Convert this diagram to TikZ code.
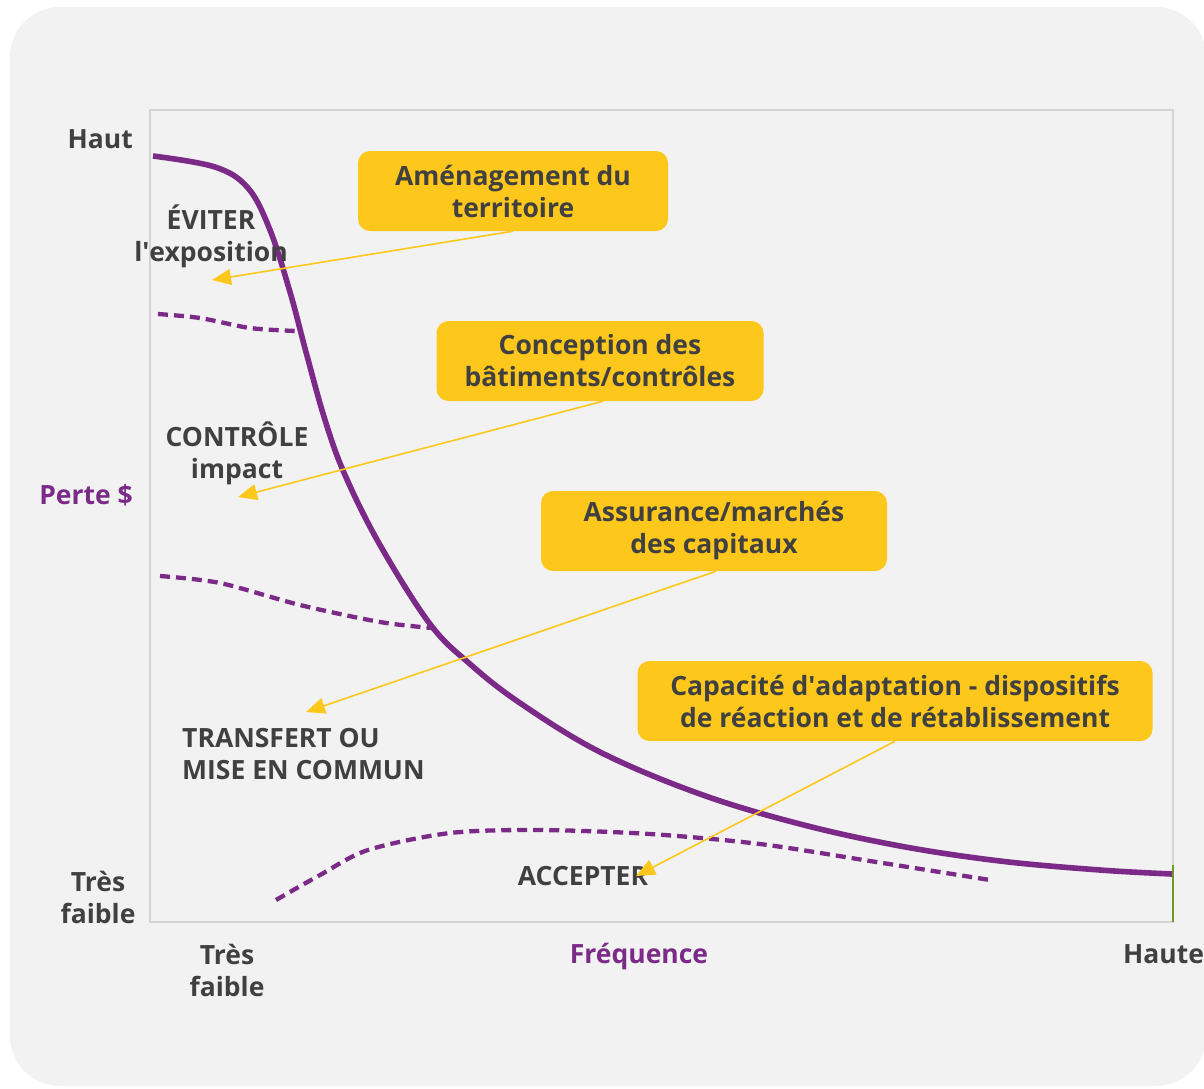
\documentclass[tikz,border=0pt]{standalone}
\usepackage{fontspec}
\setmainfont{Open Sans}
\usetikzlibrary{arrows.meta}
\definecolor{txt}{HTML}{404040}
\definecolor{plum}{HTML}{7B2A88}
\definecolor{gold}{HTML}{FDC71B}
\definecolor{panel}{HTML}{F2F2F2}
\definecolor{frameline}{HTML}{D4D4D4}
\definecolor{olive}{HTML}{6E9A2A}
\newcommand{\apos}{\textquotesingle}
\begin{document}
\begin{tikzpicture}[x=1pt,y=-1pt,
  lbl/.style={text=txt,font=\fontsize{26.5}{32}\selectfont\bfseries,align=center,inner sep=0pt},
  axislbl/.style={lbl,text=plum},
  goldbox/.style={fill=gold,rounded corners=12pt,text=txt,font=\fontsize{26.5}{32}\selectfont\bfseries,align=center,inner sep=0pt},
  pointer/.style={gold,line width=1.6pt,-{Triangle[length=19pt,width=16pt]}},
  curve/.style={plum,line width=5.6pt},
  band/.style={plum,line width=4.3pt,dash pattern=on 10pt off 6pt}]
\useasboundingbox (0,0) rectangle (1204,1088);
% panel
\fill[white] (0,0) rectangle (1204,1088);
\fill[panel,rounded corners=50pt] (10,7) rectangle (1206,1086);
% plot frame
\draw[frameline,line width=1.5pt] (150,110) rectangle (1173,922);
\draw[olive,line width=2pt] (1173,865) -- (1173,922);
% main loss curve
\draw[curve] plot[smooth,tension=0.6] coordinates {(153,156) (215,167) (248,188) (270,230) (290,292) (306,352) (325,420) (345,475) (380,545) (430,624) (470,664) (520,703) (600,752) (700,794) (800,824) (900,846) (1000,861) (1100,870) (1172,874)};
% dashed band limits
\draw[band] plot[smooth] coordinates {(158,314) (200,318) (250,328) (296,331)};
\draw[band] plot[smooth] coordinates {(160,576) (220,583) (300,605) (380,622) (432,628)};
\draw[band] plot[smooth] coordinates {(276,900) (320,875) (368,850) (450,833) (540,830) (650,834) (760,844) (870,861) (990,880)};
% axis labels
\node[lbl,anchor=east] (haut) at (133,139) {Haut};
\node[axislbl,anchor=east] (perte) at (133,495) {Perte \$};
\node[lbl] (ytf) at (98,897) {Très\\faible};
\node[lbl] (xtf) at (227,970) {Très\\faible};
\node[axislbl] (freq) at (639,957) {Fréquence};
\node[lbl,anchor=west] (haute) at (1123,954) {Haute};
% zone labels
\node[lbl] (eviter) at (211,236) {ÉVITER\\l\apos exposition};
\node[lbl] (controle) at (237,453) {CONTRÔLE\\impact};
\node[lbl,align=left,anchor=west] (transfert) at (182,754) {TRANSFERT OU\\MISE EN COMMUN};
\node[lbl] (accepter) at (583,876) {ACCEPTER};
% measures
\node[goldbox,minimum width=310pt,minimum height=80pt] (amenag) at (513,191) {Aménagement du\\territoire};
\node[goldbox,minimum width=327pt,minimum height=80pt] (concep) at (600,361) {Conception des\\bâtiments/contrôles};
\node[goldbox,minimum width=346pt,minimum height=80pt] (assur) at (714,531) {Assurance/marchés\\des capitaux};
\node[goldbox,minimum width=515pt,minimum height=80pt] (adapt) at (895,701) {Capacité d\apos adaptation - dispositifs\\de réaction et de rétablissement};
% pointer tips
\coordinate (t1) at (212,280);
\coordinate (t2) at (238,497);
\coordinate (t3) at (306,712);
\coordinate (t4) at (636,876);
\draw[pointer] (amenag.south) -- (t1);
\draw[pointer] ([xshift=3pt]concep.south) -- (t2);
\draw[pointer] ([xshift=2pt]assur.south) -- (t3);
\draw[pointer] (adapt.south) -- (t4);
\end{tikzpicture}
\end{document}
